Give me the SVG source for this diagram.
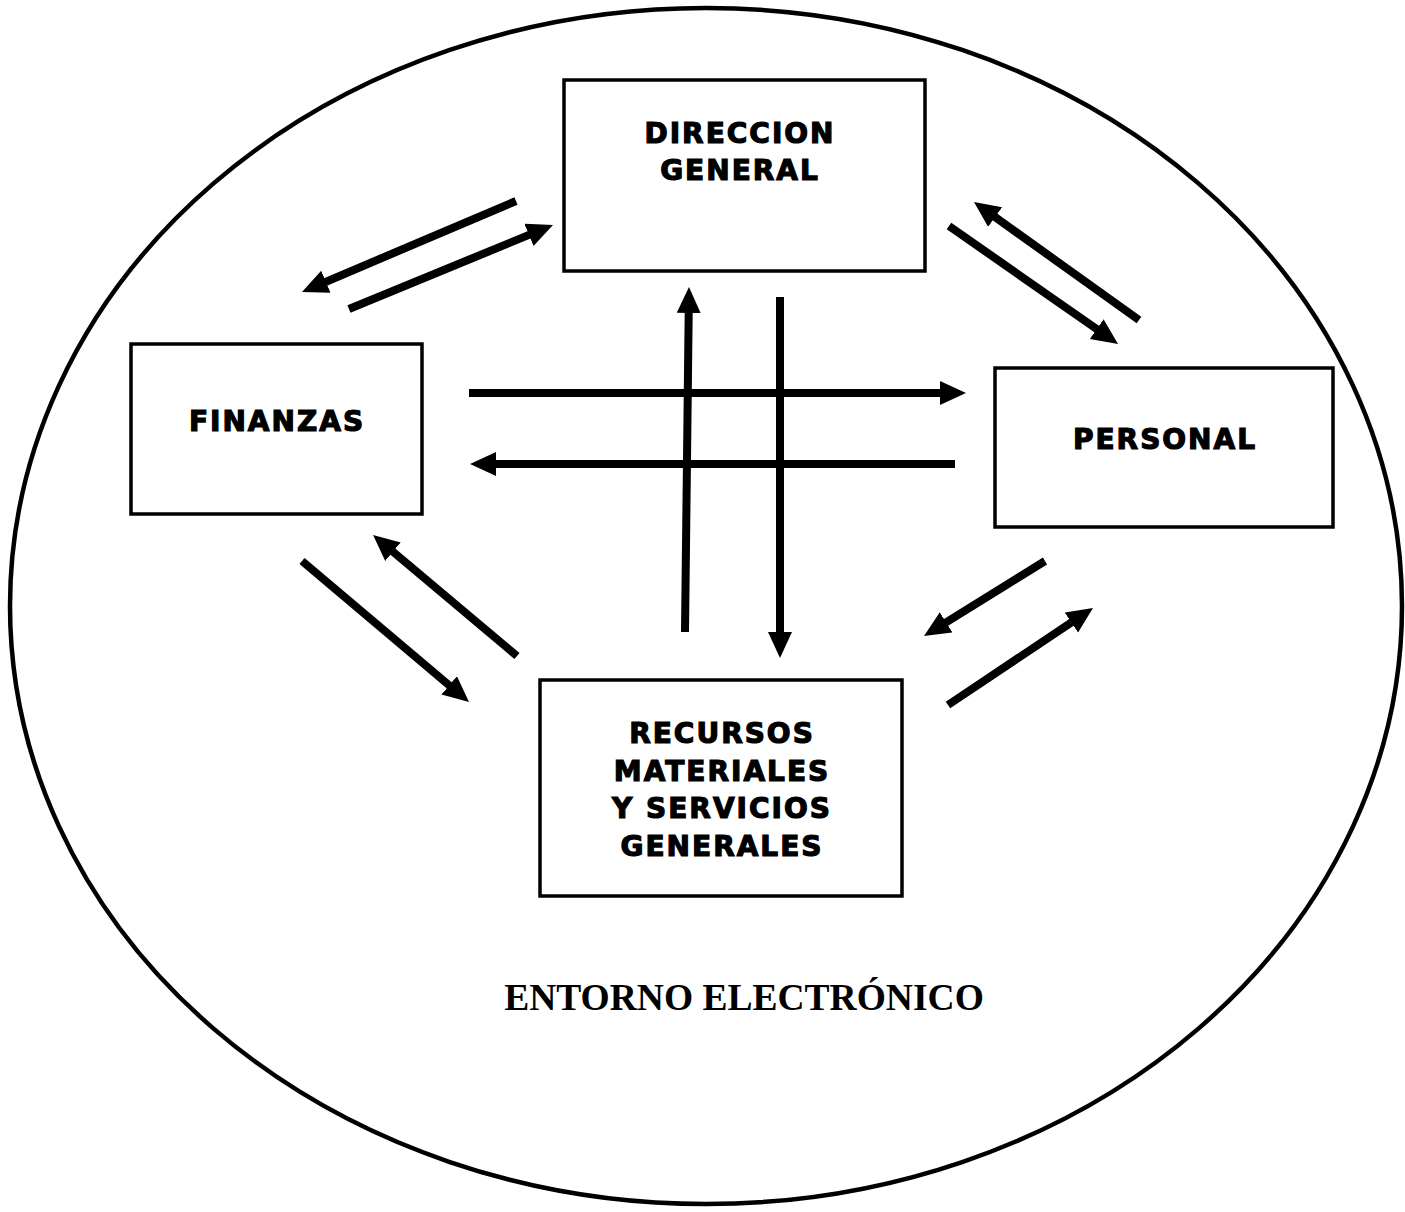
<svg xmlns="http://www.w3.org/2000/svg" width="1405" height="1212" viewBox="0 0 1405 1212">
<defs>
<style>
.box{fill:#fff;stroke:#000;stroke-width:3.5}
.lbl{font-family:"DejaVu Sans",Verdana,sans-serif;font-weight:bold;font-size:28px;fill:#000;stroke:#000;stroke-width:1.2;letter-spacing:2px;text-anchor:middle}
.con{stroke:#000;stroke-width:8;fill:none;marker-end:url(#ah)}
</style>
<marker id="ah" markerUnits="userSpaceOnUse" markerWidth="28" markerHeight="26" refX="10" refY="12" orient="auto" viewBox="0 0 28 26">
<path d="M0,0 L26,12 L0,24 z" fill="#000"/>
</marker>
</defs>
<rect width="1405" height="1212" fill="#fff"/>
<ellipse cx="706" cy="606" rx="696" ry="598" fill="none" stroke="#000" stroke-width="4.5"/>
<g id="direccion"><rect class="box" x="564" y="80" width="361" height="191"/><text class="lbl" x="740" y="143">DIRECCION</text><text class="lbl" x="740" y="180">GENERAL</text></g>
<g id="finanzas"><rect class="box" x="131" y="344" width="291" height="170"/><text class="lbl" x="277" y="431">FINANZAS</text></g>
<g id="personal"><rect class="box" x="995" y="368" width="338" height="159"/><text class="lbl" x="1165" y="449">PERSONAL</text></g>
<g id="recursos"><rect class="box" x="540" y="680" width="362" height="216"/><text class="lbl" x="722" y="743">RECURSOS</text><text class="lbl" x="722" y="781">MATERIALES</text><text class="lbl" x="722" y="818">Y SERVICIOS</text><text class="lbl" x="722" y="856">GENERALES</text></g>
<g id="connectors">
<line class="con" x1="516" y1="201" x2="316.7" y2="285.7"/>
<line class="con" x1="349" y1="309" x2="538.2" y2="231.1"/>
<line class="con" x1="1139" y1="320" x2="987" y2="211.3"/>
<line class="con" x1="949" y1="226" x2="1104.9" y2="334.8"/>
<line class="con" x1="469" y1="393" x2="950" y2="393"/>
<line class="con" x1="955" y1="464" x2="486" y2="464"/>
<line class="con" x1="685" y1="632" x2="688.8" y2="303"/>
<line class="con" x1="780" y1="297" x2="780" y2="642"/>
<line class="con" x1="302" y1="561" x2="456.8" y2="691.7"/>
<line class="con" x1="517" y1="656" x2="385.3" y2="545.3"/>
<line class="con" x1="1045" y1="561" x2="937.6" y2="627.6"/>
<line class="con" x1="948" y1="705" x2="1079.7" y2="616.9"/>
</g>
<text x="744" y="1010" font-family="Liberation Serif,serif" font-weight="bold" font-size="37.5" text-anchor="middle">ENTORNO ELECTRÓNICO</text>
</svg>
